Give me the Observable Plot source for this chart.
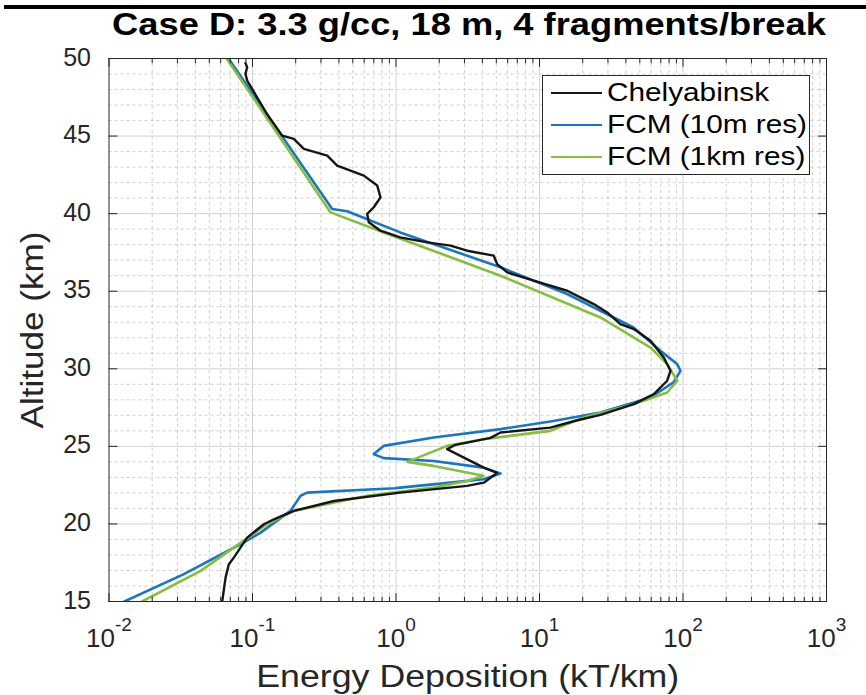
<!DOCTYPE html>
<html>
<head>
<meta charset="utf-8">
<script src="https://cdn.jsdelivr.net/npm/d3@7"></script>
<script src="https://cdn.jsdelivr.net/npm/@observablehq/plot@0.6"></script>
<style>
  body { margin: 0; background: #fff; }
  #root { position: relative; width: 866px; height: 695px; overflow: hidden; font-family: "Liberation Sans", Arial, sans-serif; color: #262626; }
  #chart { position: absolute; left: 0; top: 0; }
  #bar { position: absolute; left: 4px; right: 0; top: 5px; height: 4px; background: #000; }
  #title { position: absolute; top: 9.3px; left: 469px; white-space: nowrap; font-weight: bold; font-size: 31.5px; line-height: 31.5px; color: #000; }
  #legend { position: absolute; left: 541.5px; top: 74.5px; width: 266px; height: 98px; border: 1px solid #262626; background: #fff; }
  #legend .sw { position: absolute; left: 8px; width: 51px; height: 2.4px; }
  #legend .lt { position: absolute; left: 64px; white-space: nowrap; font-size: 25px; line-height: 25px; color: #000; transform-origin: left center; transform: scaleX(1.19); }
</style>
</head>
<body>
<div id="root">
  <div id="chart"></div>
  <div id="bar"></div>
  <div id="title"></div>
  <div id="legend"></div>
</div>
<script>
// ---- Data ----
const chelAlt = [49.7, 49.44, 49.01, 48.58, 46.43, 45.03, 44.82, 44.17, 43.74, 43.10, 42.45, 41.81, 41.05, 40.41, 39.98, 39.44, 38.90, 38.47, 38.15, 37.94, 37.61, 37.29, 36.75, 36.21, 35.68, 35.03, 34.17, 33.63, 32.88, 32.56, 31.81, 30.73, 29.87, 29.23, 28.37, 27.72, 27.03, 26.65, 26.21, 25.89, 25.55, 25.10, 24.82, 24.39, 23.63, 23.29, 22.66, 22.45, 22.02, 21.48, 20.84, 20.30, 19.98, 19.12, 17.83, 17.40, 16.54, 15.0];
const chelE   = [0.0893, 0.0918, 0.0893, 0.0918, 0.126, 0.161, 0.194, 0.228, 0.332, 0.389, 0.597, 0.74, 0.78, 0.70, 0.63, 0.646, 0.78, 1.07, 1.65, 2.40, 3.13, 4.80, 5.07, 5.96, 9.12, 15.6, 23.9, 29.6, 36.6, 45.4, 59.4, 73.5, 81.8, 77.6, 62.6, 45.4, 26.6, 17.8, 11.9, 5.35, 4.56, 2.60, 2.27, 2.81, 4.09, 5.07, 4.09, 3.13, 1.07, 0.369, 0.194, 0.141, 0.120, 0.0918, 0.0741, 0.0684, 0.0649, 0.0615];

const fcm10Alt = [50, 40.30, 40.15, 38.79, 36.54, 34.82, 32.66, 31.16, 30.30, 29.87, 29.12, 28.15, 27.18, 26.62, 26.11, 25.57, 25.03, 24.50, 24.24, 24.06, 23.63, 23.25, 22.88, 22.66, 22.34, 22.30, 22.02, 21.81, 20.84, 19.44, 18.69, 16.75, 15.0];
const fcm10E   = [0.068, 0.359, 0.457, 1.07, 5.35, 15.6, 45.2, 69.7, 91.1, 96, 85.9, 59.4, 26.6, 12.2, 5.35, 1.83, 0.82, 0.70, 0.82, 1.83, 4.07, 5.35, 4.07, 2.40, 1.07, 0.98, 0.24, 0.216, 0.184, 0.114, 0.0824, 0.033, 0.0128];

const fcm1Alt = [50, 40.08, 38.79, 36.0, 33.31, 31.37, 30.30, 29.23, 28.47, 27.72, 26.86, 26.0, 25.46, 25.03, 24.0, 23.74, 23.10, 22.77, 22.34, 21.81, 20.84, 19.98, 18.47, 16.97, 15.0];
const fcm1E   = [0.066, 0.35, 0.82, 5.35, 26.6, 59.4, 77.6, 91.2, 77.6, 45.2, 20.3, 11.9, 4.07, 2.27, 1.20, 1.83, 4.07, 3.13, 1.83, 0.63, 0.194, 0.126, 0.074, 0.0435, 0.017];

const seriesNames  = ["Chelyabinsk", "FCM (10m res)", "FCM (1km res)"];
const seriesColors = ["#161616", "#1c76bd", "#86bd44"];

const xMajorTicks = [1e-2, 1e-1, 1, 10, 100, 1000];
const xMinorMultipliers = [2, 3, 4, 5, 6, 7, 8, 9];
const yMajorTicks = [15, 20, 25, 30, 35, 40, 45, 50];
const yMinorGrid = [16, 17, 18, 19, 21, 22, 23, 24, 26, 27, 28, 29, 31, 32, 33, 34, 36, 37, 38, 39, 41, 42, 43, 44, 46, 47, 48, 49];

const titleText = "Case D: 3.3 g/cc, 18 m, 4 fragments/break";
const xLabel = "Energy Deposition (kT/km)";
const yLabel = "Altitude (km)";

// ---- Build tables ----
const rows = (alt, e, name) => alt.map((a, i) => ({alt: a, e: e[i], series: name}));
const chel = rows(chelAlt, chelE, seriesNames[0]);
const fcm10 = rows(fcm10Alt, fcm10E, seriesNames[1]);
const fcm1 = rows(fcm1Alt, fcm1E, seriesNames[2]);
const xMinorTicks = xMajorTicks.slice(0, -1).flatMap(d => xMinorMultipliers.map(m => d * m));

const tickShape = {draw(ctx, l) { ctx.moveTo(0, 0); ctx.lineTo(0, -l); }};
const axisColor = "#262626";
const tickMark = (data, opts) => Plot.vector(data, {anchor: "start", shape: tickShape, stroke: axisColor, strokeWidth: 1, ...opts});

const chart = Plot.plot({
  width: 866,
  height: 695,
  marginTop: 58,
  marginBottom: 94,
  marginLeft: 108.5,
  marginRight: 40,
  style: {fontFamily: '"Liberation Sans", Arial, sans-serif', color: axisColor, background: "white"},
  x: {type: "log", domain: [1e-2, 1e3]},
  y: {domain: [15, 50]},
  marks: [
    Plot.ruleX(xMinorTicks, {stroke: "#c4c4c4", strokeWidth: 0.8, strokeDasharray: "3,3"}),
    Plot.ruleY(yMinorGrid, {stroke: "#c4c4c4", strokeWidth: 0.8, strokeDasharray: "3,3"}),
    Plot.ruleX(xMajorTicks.slice(1, -1), {stroke: "#d2d2d2", strokeWidth: 1}),
    Plot.ruleY(yMajorTicks.slice(1, -1), {stroke: "#d2d2d2", strokeWidth: 1}),
    Plot.line(fcm10, {x: "e", y: "alt", stroke: seriesColors[1], strokeWidth: 2.6, clip: "frame"}),
    Plot.line(fcm1, {x: "e", y: "alt", stroke: seriesColors[2], strokeWidth: 2.6, clip: "frame"}),
    Plot.line(chel, {x: "e", y: "alt", stroke: seriesColors[0], strokeWidth: 2.4, clip: "frame"}),
    Plot.frame({stroke: axisColor, strokeWidth: 1}),
    tickMark(xMajorTicks, {x: d => d, frameAnchor: "bottom", length: 8, rotate: 0}),
    tickMark(xMinorTicks, {x: d => d, frameAnchor: "bottom", length: 4.5, rotate: 0}),
    tickMark(xMajorTicks, {x: d => d, frameAnchor: "top", length: 8, rotate: 180}),
    tickMark(xMinorTicks, {x: d => d, frameAnchor: "top", length: 4.5, rotate: 180}),
    tickMark(yMajorTicks, {y: d => d, frameAnchor: "left", length: 8, rotate: 90}),
    tickMark(yMajorTicks, {y: d => d, frameAnchor: "right", length: 8, rotate: -90}),
    Plot.axisX(xMajorTicks, {anchor: "bottom", tickSize: 0, tickPadding: 27.5, fontSize: 26, label: null, className: "xticks",
      tickFormat: d => "10^" + Math.round(Math.log10(d))}),
    Plot.axisY(yMajorTicks, {anchor: "left", tickSize: 0, tickPadding: 18, fontSize: 25, label: null, dy: -1}),
    Plot.text([xLabel], {text: d => d, frameAnchor: "bottom", textAnchor: "middle", dy: 85, lineAnchor: "bottom", fontSize: 31, className: "xlab"}),
    Plot.text([yLabel], {text: d => d, frameAnchor: "left", textAnchor: "middle", rotate: -90, dx: -66.5, lineAnchor: "bottom", fontSize: 31, className: "ylab"})
  ]
});
document.getElementById("chart").append(chart);

// superscript exponents on the log tick labels
chart.querySelectorAll(".xticks text").forEach(t => {
  const s = t.textContent;
  if (!s.includes("^")) return;
  const [base, exp] = s.split("^");
  t.textContent = base;
  const ts = document.createElementNS("http://www.w3.org/2000/svg", "tspan");
  ts.setAttribute("dy", "-16");
  ts.setAttribute("font-size", "19");
  ts.textContent = exp;
  t.appendChild(ts);
});

// widen the axis titles to the reference's lengths
const stretch = (sel, len) => chart.querySelectorAll(sel).forEach(t => {
  t.setAttribute("textLength", len);
  t.setAttribute("lengthAdjust", "spacingAndGlyphs");
});
stretch(".xlab text", 423);
stretch(".ylab text", 197);

// title
const title = document.getElementById("title");
title.textContent = titleText;
const tw = title.offsetWidth;
title.style.transform = `translateX(-50%) scaleX(${714 / tw})`;

// legend
const legend = d3.select("#legend");
seriesNames.forEach((name, i) => {
  legend.append("div").attr("class", "sw").style("top", (16.6 + i * 32) + "px").style("background", seriesColors[i]);
  legend.append("div").attr("class", "lt").style("top", (4.6 + i * 32) + "px").text(name);
});
</script>
</body>
</html>
